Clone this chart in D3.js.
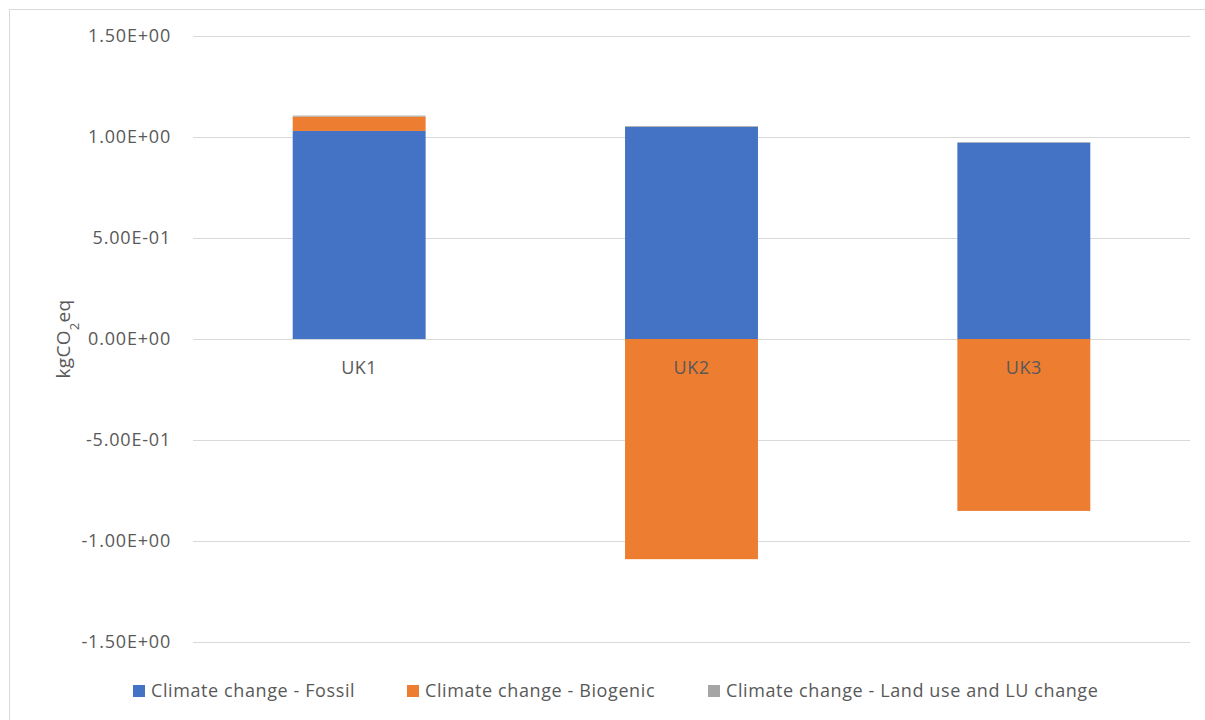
<!DOCTYPE html>
<html>
<head>
<meta charset="utf-8">
<script src="https://cdn.jsdelivr.net/npm/d3@7"></script>
<style>
  html, body { margin: 0; padding: 0; background: #fff; }
  svg { display: block; font-family: "Open Sans", "Noto Sans", sans-serif; }
</style>
</head>
<body>
<svg id="chart" width="1205" height="720"></svg>
<script>
const categories = ["UK1", "UK2", "UK3"];
const seriesNames = ["Climate change - Fossil", "Climate change - Biogenic", "Climate change - Land use and LU change"];
const fossil = [1.03, 1.05, 0.972];
const biogenic = [0.071, -1.09, -0.851];
const landUse = [0.005, 0.004, 0.003];
const yTicks = [-1.5, -1.0, -0.5, 0, 0.5, 1.0, 1.5];
const colors = ["#4472C4", "#ED7D31", "#A5A5A5"];

const svg = d3.select("#chart");
const textColor = "#595959";

// chart border
svg.append("rect").attr("x", 9.5).attr("y", 9.5).attr("width", 1205).attr("height", 720)
  .attr("fill", "none").attr("stroke", "#d9d9d9").attr("stroke-width", 1);

const plot = { left: 193, right: 1190, top: 36, bottom: 642 };
const x = d3.scaleBand().domain(categories).range([plot.left, plot.right]).paddingInner(0.6).paddingOuter(0.3);
const y = d3.scaleLinear().domain([-1.5, 1.5]).range([plot.bottom, plot.top]);

// gridlines
svg.append("g").selectAll("line").data(yTicks).join("line")
  .attr("x1", plot.left).attr("x2", plot.right)
  .attr("y1", d => Math.round(y(d)) + 0.5).attr("y2", d => Math.round(y(d)) + 0.5)
  .attr("stroke", "#d9d9d9").attr("stroke-width", 1);

// y-axis labels
const fmt = d => {
  const s = (+d).toExponential(2); // e.g. 1.50e+0
  const m = s.match(/^(-?[\d.]+)e([+-])(\d+)$/);
  if (!m) return s;
  return m[1] + "E" + m[2] + m[3].padStart(2, "0");
};
const yAxis = d3.axisLeft(y).tickValues(yTicks).tickFormat(fmt).tickSize(0).tickPadding(0);
const gy = svg.append("g").attr("transform", `translate(171,0)`).call(yAxis);
gy.select(".domain").remove();
gy.selectAll("text").attr("fill", textColor).attr("font-size", 18)
  .attr("letter-spacing", 0.8).attr("font-family", "Open Sans");

// stacked data
const rows = categories.map((c, i) => ({ cat: c, s0: fossil[i], s1: biogenic[i], s2: landUse[i] }));
const stack = d3.stack().keys(["s0", "s1", "s2"]).offset(d3.stackOffsetDiverging);
const stacked = stack(rows);

svg.append("g").selectAll("g").data(stacked).join("g")
  .attr("fill", (d, i) => colors[i])
  .selectAll("rect").data(d => d).join("rect")
  .attr("x", d => x(d.data.cat))
  .attr("width", x.bandwidth())
  .attr("y", d => y(Math.max(d[0], d[1])))
  .attr("height", d => Math.abs(y(d[0]) - y(d[1])));

// category labels at zero line
const gx = svg.append("g").attr("transform", `translate(0,${y(0)})`)
  .call(d3.axisBottom(x).tickSize(0).tickPadding(22));
gx.select(".domain").remove();
gx.selectAll("text").attr("fill", textColor).attr("font-size", 18)
  .attr("letter-spacing", 0.5).attr("font-family", "Open Sans");

// y-axis title
svg.append("text")
  .attr("transform", `translate(70,${y(0)}) rotate(-90)`)
  .attr("text-anchor", "middle").attr("fill", textColor).attr("font-size", 19)
  .attr("letter-spacing", 0.3)
  .html('kgCO<tspan baseline-shift="sub" font-size="13">2</tspan>eq');

// legend
const legendX = [133, 407, 708];
const lg = svg.append("g").selectAll("g").data(seriesNames).join("g")
  .attr("transform", (d, i) => `translate(${legendX[i]},691)`);
lg.append("rect").attr("x", 0).attr("y", -6).attr("width", 12).attr("height", 12)
  .attr("fill", (d, i) => colors[i]);
lg.append("text").attr("x", 18).attr("y", 0).attr("dy", "0.35em")
  .attr("fill", textColor).attr("font-size", 18).attr("letter-spacing", 0.6).text(d => d);
</script>
</body>
</html>
